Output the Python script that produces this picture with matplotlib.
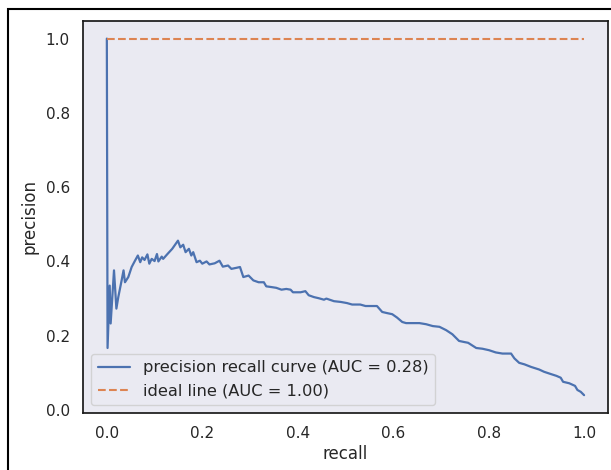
import numpy as np
import matplotlib
matplotlib.use("Agg")
import matplotlib.pyplot as plt
import seaborn as sns
from matplotlib.patches import Rectangle

# precision-recall curve
recall = [0.0, 0.0015, 0.006, 0.008, 0.015, 0.02, 0.024, 0.031, 0.035, 0.038,
          0.045, 0.052, 0.059, 0.065, 0.07, 0.074, 0.079, 0.085, 0.089, 0.094,
          0.1, 0.105, 0.108, 0.115, 0.118, 0.127, 0.137, 0.149, 0.154, 0.16,
          0.165, 0.172, 0.177, 0.181, 0.188, 0.195, 0.2, 0.209, 0.215, 0.226,
          0.236, 0.243, 0.254, 0.261, 0.272, 0.279, 0.286, 0.297, 0.307, 0.318,
          0.329, 0.334, 0.345, 0.355, 0.366, 0.376, 0.385, 0.39, 0.406, 0.416,
          0.423, 0.434, 0.444, 0.455, 0.46, 0.476, 0.49, 0.503, 0.514, 0.531,
          0.542, 0.566, 0.577, 0.587, 0.598, 0.608, 0.619, 0.627, 0.655, 0.669,
          0.683, 0.697, 0.711, 0.724, 0.738, 0.749, 0.757, 0.774, 0.787, 0.801,
          0.815, 0.829, 0.847, 0.854, 0.864, 0.875, 0.889, 0.906, 0.916, 0.93,
          0.942, 0.951, 0.956, 0.969, 0.981, 0.986, 0.993, 1.0]
precision = [1.0, 0.167, 0.335, 0.233, 0.376, 0.273, 0.304, 0.349, 0.376, 0.344,
             0.358, 0.385, 0.402, 0.416, 0.398, 0.411, 0.404, 0.419, 0.394, 0.407,
             0.401, 0.42, 0.4, 0.413, 0.407, 0.42, 0.434, 0.456, 0.438, 0.445,
             0.425, 0.434, 0.416, 0.425, 0.398, 0.402, 0.394, 0.4, 0.392, 0.395,
             0.402, 0.386, 0.389, 0.38, 0.383, 0.385, 0.358, 0.362, 0.349, 0.344,
             0.344, 0.333, 0.331, 0.329, 0.324, 0.326, 0.324, 0.317, 0.317, 0.32,
             0.309, 0.304, 0.301, 0.297, 0.3, 0.293, 0.291, 0.288, 0.284, 0.284,
             0.28, 0.28, 0.264, 0.261, 0.258, 0.249, 0.237, 0.234, 0.234, 0.231,
             0.226, 0.224, 0.215, 0.204, 0.186, 0.183, 0.181, 0.167, 0.165, 0.161,
             0.155, 0.152, 0.152, 0.139, 0.127, 0.123, 0.116, 0.109, 0.103, 0.097,
             0.092, 0.087, 0.076, 0.072, 0.065, 0.054, 0.049, 0.04]
ideal_x = [0.0, 1.0]
ideal_y = [1.0, 1.0]
auc_curve = 0.28
auc_ideal = 1.00

sns.set_theme(style="dark")
plt.rcParams["axes.edgecolor"] = "0.1"
plt.rcParams["axes.linewidth"] = 1.25

fig = plt.figure(figsize=(6.11, 4.70), dpi=100)
ax = fig.add_axes([0.1358, 0.1213, 0.8592, 0.8345])

ax.plot(recall, precision, lw=1.6,
        label="precision recall curve (AUC = %.2f)" % auc_curve)
ax.plot(ideal_x, ideal_y, "--", label="ideal line (AUC = %.2f)" % auc_ideal)
ax.set_xlabel("recall", labelpad=3)
ax.set_ylabel("precision", labelpad=5)
ax.legend(loc="lower left", fontsize=11.7)

# frame around the figure (cropped screenshot look)
fig.patches.append(Rectangle((8 / 611, -0.1), 1.2, (470 - 9) / 470 + 0.1,
                             transform=fig.transFigure, fill=False,
                             edgecolor="black", linewidth=1.5))

fig.savefig("out.png", dpi=100)
